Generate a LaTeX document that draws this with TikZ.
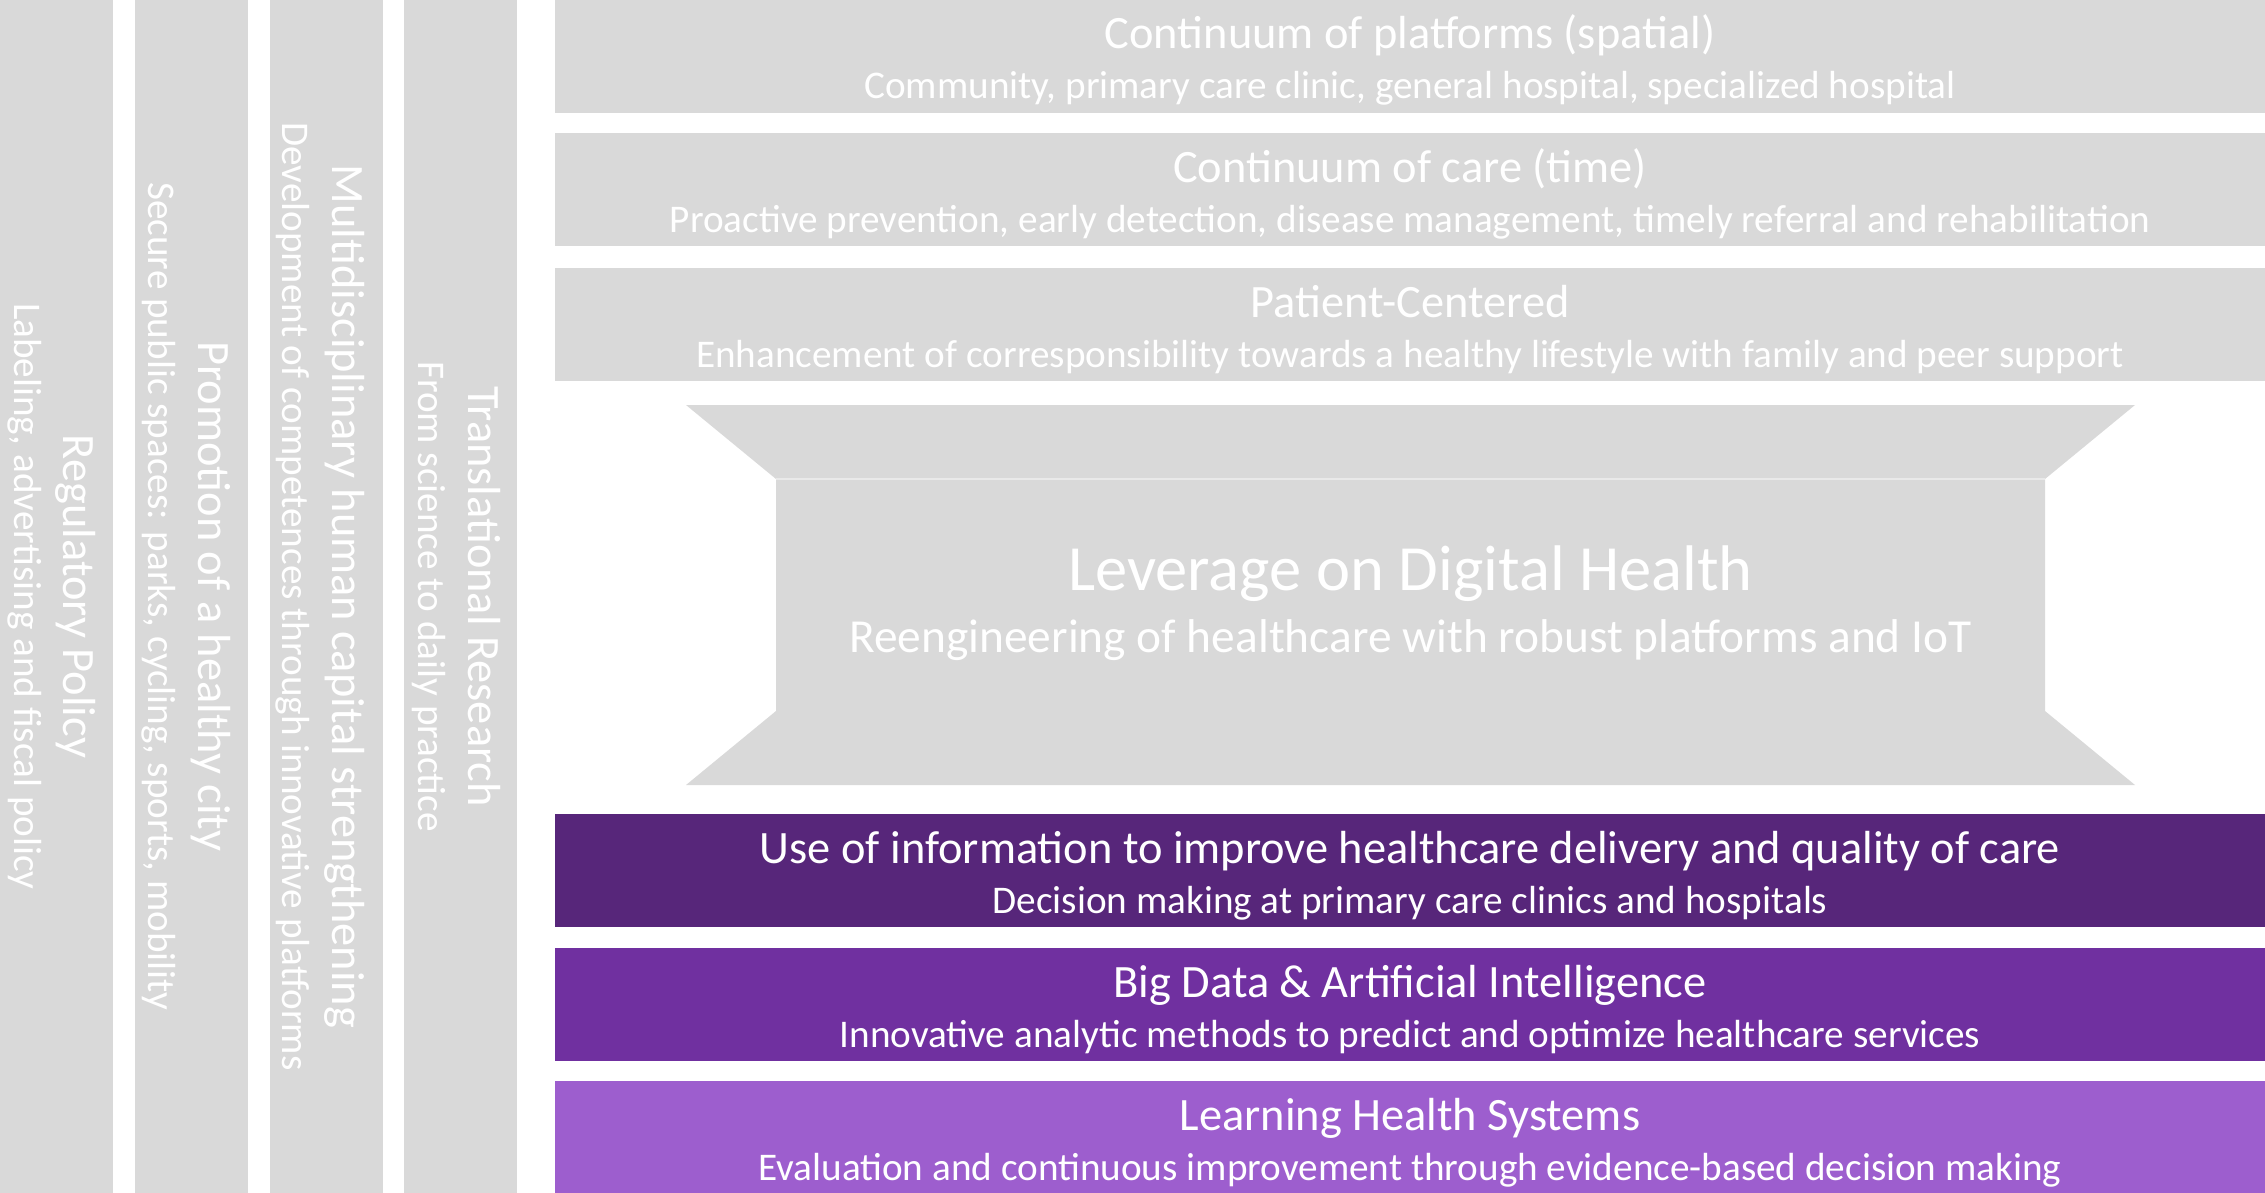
\documentclass[tikz,border=0pt]{standalone}
\usepackage{fontspec}
\setmainfont{Carlito}
\definecolor{boxgray}{HTML}{D9D9D9}
\definecolor{purpA}{HTML}{57267A}
\definecolor{purpB}{HTML}{7030A0}
\definecolor{purpC}{HTML}{9D5ECE}
\definecolor{seam}{HTML}{E9E9E9}
\tikzset{
  band/.style={fill=#1, draw=none, inner sep=0pt, outer sep=0pt, anchor=north west, minimum width=1710pt, minimum height=113pt},
  pillar/.style={fill=boxgray, draw=none, inner sep=0pt, outer sep=0pt, anchor=north west, minimum width=113pt, minimum height=1193pt},
  ttl/.style={text=white, inner sep=0pt, anchor=base, font=\fontsize{46.4}{56}\selectfont},
  sub/.style={text=white, inner sep=0pt, anchor=base, font=\fontsize{39.2}{47}\selectfont},
  vttl/.style={ttl, rotate=-90},
  vsub/.style={sub, rotate=-90},
}
\begin{document}
\begin{tikzpicture}[x=1pt,y=-1pt]
\useasboundingbox (0,0) rectangle (2265,1193);
% pillars
\node[pillar] (c1) at (0,0) {};
\node[pillar] (c2) at (134.5,0) {};
\node[pillar] (c3) at (269.5,0) {};
\node[pillar] (c4) at (404,0) {};
\node[vttl] (c1t) at (63.6,596.5) {Regulatory Policy};
\node[vsub] (c1s) at (14.3,596.5) {Labeling, advertising and fiscal policy};
\node[vttl] (c2t) at (198,596.5) {Promotion of a healthy city};
\node[vsub] (c2s) at (148,596.5) {Secure public spaces: parks, cycling, sports, mobility};
\node[vttl] (c3t) at (332,596.5) {Multidisciplinary human capital strengthening};
\node[vsub] (c3s) at (282,596.5) {Development of competences through innovative platforms};
\node[vttl] (c4t) at (468,596.5) {Translational Research};
\node[vsub] (c4s) at (418,596.5) {From science to daily practice};
% bands
\node[band=boxgray] (b1) at (555,0) {};
\node[band=boxgray] (b2) at (555,133.5) {};
\node[band=boxgray] (b3) at (555,268) {};
\node[band=purpA] (b4) at (555,814) {};
\node[band=purpB] (b5) at (555,948) {};
\node[band=purpC, minimum height=112pt] (b6) at (555,1081) {};
\foreach \b/\t/\s in {
  b1/{Continuum of platforms (spatial)}/{Community, primary care clinic, general hospital, specialized hospital},
  b2/{Continuum of care (time)}/{Proactive prevention, early detection, disease management, timely referral and rehabilitation},
  b3/{Patient-Centered}/{Enhancement of corresponsibility towards a healthy lifestyle with family and peer support},
  b4/{Use of information to improve healthcare delivery and quality of care}/{Decision making at primary care clinics and hospitals},
  b5/{Big Data \& Artificial Intelligence}/{Innovative analytic methods to predict and optimize healthcare services},
  b6/{Learning Health Systems}/{Evaluation and continuous improvement through evidence-based decision making}}{
  \node[ttl] (\b t) at ([yshift=-49pt]\b.north) {\t};
  \node[sub] (\b s) at ([yshift=-99pt]\b.north) {\s};
}
% digital health shape
\fill[boxgray] (686,405) -- (2135,405) -- (2045,479) -- (2045,711) -- (2135,785) -- (686,785) -- (776,711) -- (776,479) -- cycle;
\draw[seam, line width=1.5pt] (776,479) -- (2045,479);
\coordinate (dh) at (1410.5,405);
\node[ttl, font=\fontsize{64.5}{78}\selectfont] (dht) at ([yshift=-185pt]dh) {Leverage on Digital Health};
\node[sub, font=\fontsize{47.4}{57}\selectfont] (dhs) at ([yshift=-247pt]dh) {Reengineering of healthcare with robust platforms and IoT};
\end{tikzpicture}
\end{document}
